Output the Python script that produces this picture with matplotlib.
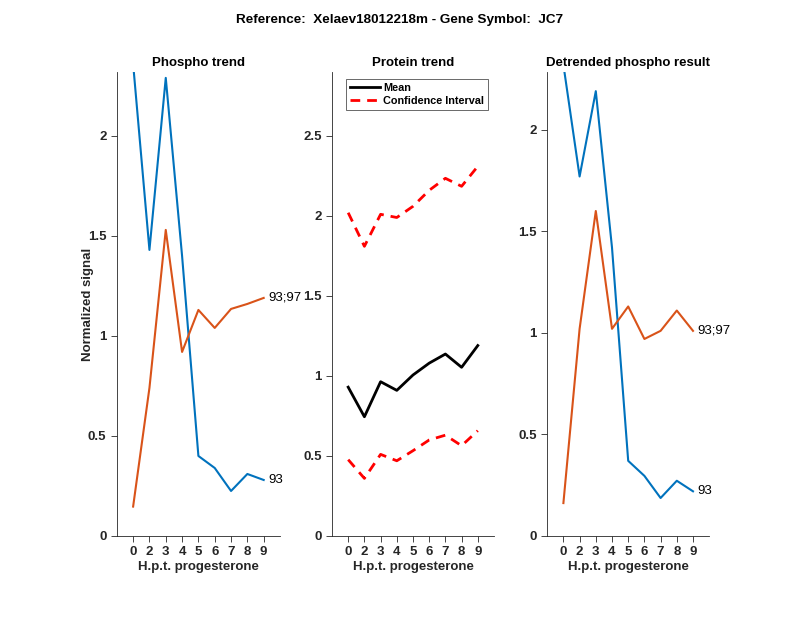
import matplotlib.pyplot as plt
import numpy as np

plt.rcParams['font.family'] = ['Liberation Sans', 'DejaVu Sans']

# time points (hours post progesterone)
hpt_labels = ['0', '2', '3', '4', '5', '6', '7', '8', '9']

# phospho trend
phospho_93 = [2.36, 1.43, 2.29, 1.40, 0.40, 0.34, 0.225, 0.31, 0.28]
phospho_93_97 = [0.147, 0.74, 1.53, 0.92, 1.13, 1.04, 1.135, 1.16, 1.19]

# protein trend
protein_mean = [0.93, 0.745, 0.964, 0.91, 1.006, 1.08, 1.137, 1.054, 1.19]
protein_upper = [2.02, 1.81, 2.01, 1.99, 2.06, 2.16, 2.235, 2.185, 2.31]
protein_lower = [0.477, 0.36, 0.51, 0.47, 0.533, 0.60, 0.63, 0.564, 0.658]

# detrended phospho
detr_93 = [2.32, 1.77, 2.19, 1.42, 0.37, 0.296, 0.187, 0.272, 0.22]
detr_93_97 = [0.162, 1.02, 1.60, 1.02, 1.13, 0.97, 1.01, 1.11, 1.01]

blue = '#0072BD'
orange = '#D95319'
x = np.arange(1, len(hpt_labels) + 1)

fig = plt.figure(figsize=(8, 6.18), dpi=100)
fig.suptitle('Reference:  Xelaev18012218m - Gene Symbol:  JC7', y=0.977,
             fontsize=9.7, fontweight='bold')

ax1 = fig.add_axes([0.146, 0.1327, 0.204, 0.751])
ax2 = fig.add_axes([0.415, 0.1327, 0.2025, 0.751])
ax3 = fig.add_axes([0.684, 0.1327, 0.2025, 0.751])


def style(ax, title, ymax):
    ax.set_xlim(0, 10)
    ax.set_ylim(0, ymax)
    ax.set_xticks(x)
    ax.set_xticklabels(hpt_labels)
    ax.spines['top'].set_visible(False)
    ax.spines['right'].set_visible(False)
    for s in ['left', 'bottom']:
        ax.spines[s].set_color('#262626')
        ax.spines[s].set_linewidth(0.6)
    ax.tick_params(direction='out', length=4, width=0.6, colors='#262626',
                   labelsize=9.5)
    for lab in ax.get_xticklabels() + ax.get_yticklabels():
        lab.set_fontweight('bold')
    ax.set_title(title, fontsize=9.5, fontweight='bold', pad=4)
    ax.set_xlabel('H.p.t. progesterone', fontsize=9.5, fontweight='bold',
                  color='#262626', labelpad=2)


# Phospho trend
ax1.plot(x, phospho_93, color=blue, lw=1.5)
ax1.plot(x, phospho_93_97, color=orange, lw=1.5)
ax1.text(x[-1] + 0.3, phospho_93[-1], '93', va='center', fontsize=9.5)
ax1.text(x[-1] + 0.3, phospho_93_97[-1], '93;97', va='center', fontsize=9.5)
ax1.set_yticks([0, 0.5, 1, 1.5, 2])
ax1.set_yticklabels(['0', '0.5', '1', '1.5', '2'])
style(ax1, 'Phospho trend', 2.32)
ax1.set_ylabel('Normalized signal', fontsize=9.5, fontweight='bold',
               color='#262626')
ax1.yaxis.set_label_coords(-0.14, 0.5)

# Protein trend
ax2.plot(x, protein_mean, color='black', lw=2, label='Mean')
ax2.plot(x, protein_upper, color='red', lw=2, ls=(0, (3.5, 2.5)),
         label='Confidence Interval')
ax2.plot(x, protein_lower, color='red', lw=2, ls=(0, (3.5, 2.5)))
ax2.set_yticks([0, 0.5, 1, 1.5, 2, 2.5])
ax2.set_yticklabels(['0', '0.5', '1', '1.5', '2', '2.5'])
style(ax2, 'Protein trend', 2.9)
leg = ax2.legend(loc='upper left', bbox_to_anchor=(0.085, 0.985),
                 frameon=True, fancybox=False,
                 borderpad=0.35, handlelength=2.8, labelspacing=0.3,
                 handletextpad=0.3, borderaxespad=0.0,
                 prop={'weight': 'bold', 'size': 7.8})
leg.get_frame().set_edgecolor('#262626')
leg.get_frame().set_linewidth(0.6)

# Detrended phospho result
ax3.plot(x, detr_93, color=blue, lw=1.5)
ax3.plot(x, detr_93_97, color=orange, lw=1.5)
ax3.text(x[-1] + 0.3, detr_93[-1], '93', va='center', fontsize=9.5)
ax3.text(x[-1] + 0.3, detr_93_97[-1], '93;97', va='center', fontsize=9.5)
ax3.set_yticks([0, 0.5, 1, 1.5, 2])
ax3.set_yticklabels(['0', '0.5', '1', '1.5', '2'])
style(ax3, 'Detrended phospho result', 2.285)

fig.savefig('out.png', dpi=100)
